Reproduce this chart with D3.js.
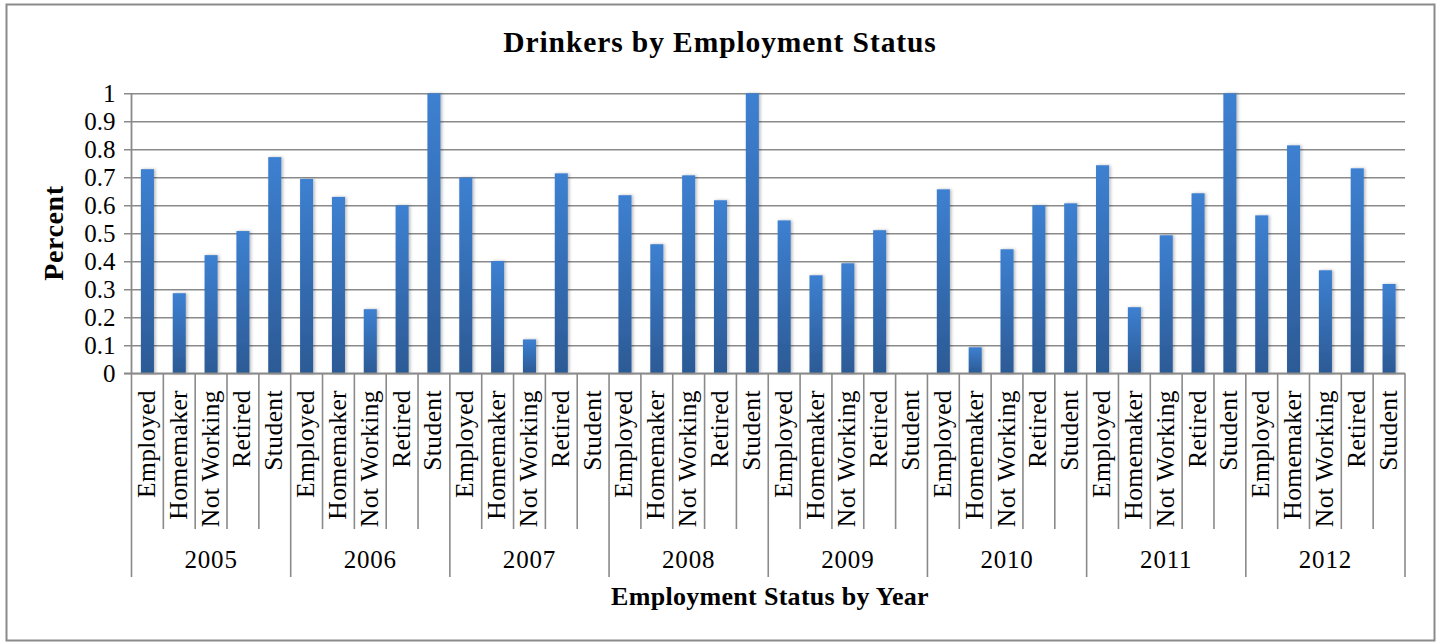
<!DOCTYPE html>
<html>
<head>
<meta charset="utf-8">
<script src="https://cdn.jsdelivr.net/npm/d3@7/dist/d3.min.js"></script>
<style>
  html, body { margin: 0; padding: 0; background: #ffffff; }
  svg { display: block; }
  text { font-family: "Liberation Serif", "DejaVu Serif", serif; fill: #000; }
</style>
</head>
<body>
<svg id="chart" width="1440" height="642"></svg>
<script>
// Share of drinkers per employment status, by survey year
const years = ["2005", "2006", "2007", "2008", "2009", "2010", "2011", "2012"];
const statuses = ["Employed", "Homemaker", "Not Working", "Retired", "Student"];
const values2005 = [0.729, 0.286, 0.422, 0.508, 0.772];
const values2006 = [0.694, 0.630, 0.229, 0.600, 1.000];
const values2007 = [0.699, 0.401, 0.121, 0.714, 0.000];
const values2008 = [0.636, 0.461, 0.707, 0.618, 1.000];
const values2009 = [0.546, 0.350, 0.393, 0.511, 0.000];
const values2010 = [0.657, 0.093, 0.443, 0.600, 0.607];
const values2011 = [0.743, 0.236, 0.493, 0.643, 1.000];
const values2012 = [0.564, 0.814, 0.368, 0.732, 0.319];
const yTicks = [0, 0.1, 0.2, 0.3, 0.4, 0.5, 0.6, 0.7, 0.8, 0.9, 1];

const seriesByYear = [values2005, values2006, values2007, values2008,
                      values2009, values2010, values2011, values2012];

const rows = [];
years.forEach((yr, yi) => {
  statuses.forEach((st, si) => {
    rows.push({ key: yr + "|" + st, year: yr, status: st, value: seriesByYear[yi][si] });
  });
});

const svg = d3.select("#chart");
const plot = { left: 131.5, right: 1405, top: 93.3, bottom: 373.3 };
const gray = "#8a8a8a";

// outer frame
svg.append("rect")
  .attr("x", 6.5).attr("y", 4.5)
  .attr("width", 1428).attr("height", 636)
  .attr("fill", "#fff").attr("stroke", gray).attr("stroke-width", 2);

const defs = svg.append("defs");
const grad = defs.append("linearGradient")
  .attr("id", "barFill").attr("x1", 0).attr("y1", 0).attr("x2", 0).attr("y2", 1);
grad.append("stop").attr("offset", "0%").attr("stop-color", "#3d80d1");
grad.append("stop").attr("offset", "100%").attr("stop-color", "#2c5a95");

const shadow = defs.append("filter").attr("id", "barShadow")
  .attr("x", "-50%").attr("y", "-10%").attr("width", "200%").attr("height", "120%");
shadow.append("feDropShadow")
  .attr("dx", 1.5).attr("dy", 0).attr("stdDeviation", 1.4)
  .attr("flood-color", "#000").attr("flood-opacity", 0.28);

const x = d3.scaleBand()
  .domain(rows.map(d => d.key))
  .range([plot.left, plot.right])
  .paddingInner(0.59)
  .paddingOuter(0.295);

const y = d3.scaleLinear().domain([0, 1]).range([plot.bottom, plot.top]);

// horizontal gridlines with outside ticks
const yAxis = d3.axisLeft(y)
  .tickValues(yTicks)
  .tickFormat(d => String(+d.toFixed(1)))
  .tickSize(-(plot.right - plot.left))
  .tickPadding(16);

const gy = svg.append("g")
  .attr("transform", `translate(${plot.left},0)`)
  .call(yAxis);
gy.select(".domain").remove();
gy.selectAll(".tick line")
  .attr("x1", -7.5)
  .attr("stroke", gray).attr("stroke-width", 1.6);
gy.selectAll(".tick text")
  .attr("font-size", 25)
  .attr("font-family", "Liberation Serif, serif")
  .attr("fill", "#000");

// vertical axis line
svg.append("line")
  .attr("x1", plot.left).attr("x2", plot.left)
  .attr("y1", plot.top).attr("y2", plot.bottom)
  .attr("stroke", gray).attr("stroke-width", 1.8);

// bars
svg.append("g").selectAll("rect")
  .data(rows.filter(d => d.value > 0))
  .join("rect")
  .attr("x", d => x(d.key))
  .attr("y", d => y(d.value))
  .attr("width", x.bandwidth())
  .attr("height", d => y(0) - y(d.value))
  .attr("fill", "url(#barFill)")
  .attr("filter", "url(#barShadow)");

// baseline
svg.append("line")
  .attr("x1", plot.left - 7.5).attr("x2", plot.right)
  .attr("y1", plot.bottom).attr("y2", plot.bottom)
  .attr("stroke", gray).attr("stroke-width", 1.8);

// category separators: short between statuses, long between years
const step = x.step();
const catLineBottom = 529, yearLineBottom = 577;
const boundaries = d3.range(rows.length + 1);
svg.append("g").selectAll("line")
  .data(boundaries)
  .join("line")
  .attr("x1", i => plot.left + i * step)
  .attr("x2", i => plot.left + i * step)
  .attr("y1", plot.bottom)
  .attr("y2", i => (i % statuses.length === 0) ? yearLineBottom : catLineBottom)
  .attr("stroke", gray).attr("stroke-width", 1.6);

// rotated status labels
svg.append("g").selectAll("text")
  .data(rows)
  .join("text")
  .attr("transform", d => `translate(${x(d.key) + x.bandwidth() / 2 + 7.5},390) rotate(-90)`)
  .attr("text-anchor", "end")
  .attr("font-size", 25.5)
  .attr("letter-spacing", 0.4)
  .text(d => d.status);

// year labels
const yearCenter = yr => {
  const first = x(yr + "|" + statuses[0]);
  const last = x(yr + "|" + statuses[statuses.length - 1]);
  return (first + last + x.bandwidth()) / 2;
};
svg.append("g").selectAll("text")
  .data(years)
  .join("text")
  .attr("x", yearCenter)
  .attr("y", 568)
  .attr("text-anchor", "middle")
  .attr("font-size", 25)
  .attr("letter-spacing", 0.8)
  .text(d => d);

// titles
svg.append("text")
  .attr("x", 720).attr("y", 52)
  .attr("text-anchor", "middle")
  .attr("font-size", 29.5).attr("font-weight", "bold")
  .attr("letter-spacing", 0.9)
  .text("Drinkers by Employment Status");

svg.append("text")
  .attr("x", 770).attr("y", 605)
  .attr("text-anchor", "middle")
  .attr("font-size", 26).attr("font-weight", "bold")
  .attr("letter-spacing", 0.3)
  .text("Employment Status by Year");

svg.append("text")
  .attr("transform", "translate(63,233) rotate(-90)")
  .attr("text-anchor", "middle")
  .attr("font-size", 28).attr("font-weight", "bold")
  .attr("letter-spacing", 0.6)
  .text("Percent");
</script>
</body>
</html>
